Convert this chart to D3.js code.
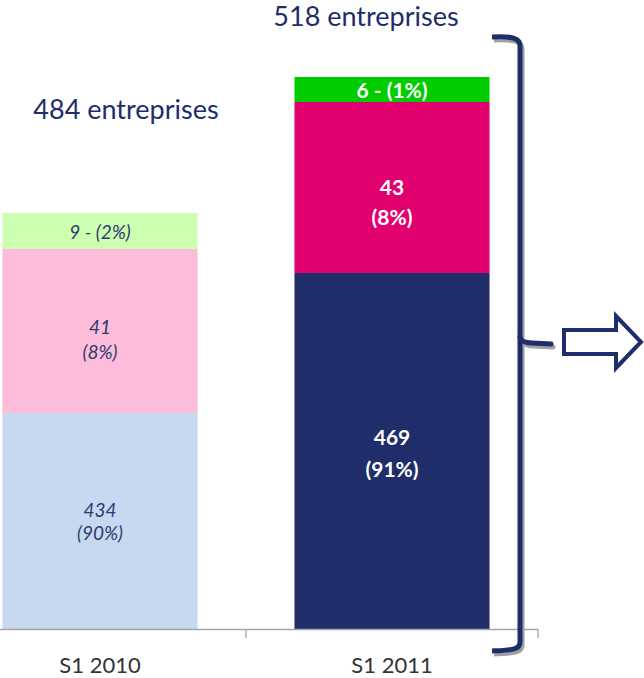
<!DOCTYPE html>
<html><head><meta charset="utf-8">
<script src="https://cdn.jsdelivr.net/npm/d3@7"></script>
<style>body{margin:0;background:#fff}svg{display:block}</style>
</head><body>
<script>
// ---- data ----
const categories = ["S1 2010", "S1 2011"];
const totals = ["484 entreprises", "518 entreprises"];
// plotted (visual) segment heights, bottom to top, as drawn in the picture
const seriesNames = ["principal", "secondaire", "autre"];
const plotted2010 = [216, 164, 36];
const plotted2011 = [356, 171, 25];
// labels shown in each segment
const labels2010 = [["434", "(90%)"], ["41", "(8%)"], ["9 - (2%)"]];
const labels2011 = [["469", "(91%)"], ["43", "(8%)"], ["6 - (1%)"]];

const colors2010 = ["#c6d9f1", "#fcbddb", "#ccffaf"];
const colors2011 = ["#1f2d6b", "#e0006e", "#00cc00"];

// layout tweaks for label placement (shift from segment centre, line height)
const layout2010 = [[0.5, 23], [9, 25], [1, 0]];
const layout2011 = [[2, 32], [15, 30], [1, 0]];

const W = 644, H = 678;
const svg = d3.select("body").append("svg").attr("width", W).attr("height", H);
const font = "Lato, 'Open Sans', sans-serif";

const x = d3.scaleBand().domain(categories).range([-46, 538]).paddingInner(0.332).paddingOuter(0.166);
const y = d3.scaleLinear().domain([0, 629]).range([629, 0]);

const data = [
  {cat: categories[0], vals: plotted2010, labels: labels2010, colors: colors2010, lay: layout2010, style: "light"},
  {cat: categories[1], vals: plotted2011, labels: labels2011, colors: colors2011, lay: layout2011, style: "dark"}
];

data.forEach(d => {
  let acc = 0;
  d.vals.forEach((v, i) => {
    const y0 = acc, y1 = acc + v; acc = y1;
    svg.append("rect")
      .attr("x", x(d.cat)).attr("width", x.bandwidth())
      .attr("y", y(y1)).attr("height", y(y0) - y(y1))
      .attr("fill", d.colors[i]);
    const lines = d.labels[i];
    const [shift, lh] = d.lay[i];
    const cy = (y(y0) + y(y1)) / 2 + shift;
    const t = svg.append("text")
      .attr("x", x(d.cat) + x.bandwidth() / 2)
      .attr("text-anchor", "middle")
      .attr("font-family", font)
      .attr("font-size", d.style === "dark" ? 21 : 19)
      .attr("font-weight", d.style === "dark" ? "bold" : "normal")
      .attr("font-style", d.style === "dark" ? "normal" : "italic")
      .attr("fill", d.style === "dark" ? "#ffffff" : "#2e3a6e");
    lines.forEach((l, j) => {
      t.append("tspan")
        .attr("x", x(d.cat) + x.bandwidth() / 2)
        .attr("y", cy + (j - (lines.length - 1) / 2) * lh)
        .attr("dy", "0.36em")
        .text(l);
    });
  });
});

// axis
const axisG = svg.append("g");
axisG.append("line").attr("x1", 0).attr("x2", 538).attr("y1", 629.5).attr("y2", 629.5)
  .attr("stroke", "#a6a6a6").attr("stroke-width", 1.3);
[-46, -46 + x.step(), -46 + 2 * x.step()].forEach(tx => {
  axisG.append("line").attr("x1", tx).attr("x2", tx).attr("y1", 629).attr("y2", 638)
    .attr("stroke", "#a6a6a6").attr("stroke-width", 1.3);
});
categories.forEach(c => {
  svg.append("text").attr("x", x(c) + x.bandwidth() / 2).attr("y", 673)
    .attr("text-anchor", "middle").attr("font-family", font).attr("font-size", 22)
    .attr("fill", "#333").text(c);
});

// totals
svg.append("text").attr("x", 126).attr("y", 119).attr("text-anchor", "middle")
  .attr("font-family", font).attr("font-size", 27).attr("fill", "#1f2d6b").text(totals[0]);
svg.append("text").attr("x", 366).attr("y", 26).attr("text-anchor", "middle")
  .attr("font-family", font).attr("font-size", 27).attr("fill", "#1f2d6b").text(totals[1]);

// bracket
const br = "M492,37 C512,36 520,38 520,46 L520,642 C520,650 512,650 492,651";
const nub = "M520,337 C521,344 532,343 551,344";
[[2, 3, "#a0a0a0"], [0, 0, "#1f2d6b"]].forEach(([dx, dy, col]) => {
  const g = svg.append("g").attr("transform", `translate(${dx},${dy})`);
  g.append("path").attr("d", br).attr("fill", "none").attr("stroke", col).attr("stroke-width", 5);
  g.append("path").attr("d", nub).attr("fill", "none").attr("stroke", col).attr("stroke-width", 5).attr("stroke-linecap", "round");
});

// arrow
svg.append("path")
  .attr("d", "M564,330 L616,330 L616,316 L641,342 L616,368 L616,354 L564,354 Z")
  .attr("fill", "#fff").attr("stroke", "#1f2d6b").attr("stroke-width", 4);
</script>
</body></html>
